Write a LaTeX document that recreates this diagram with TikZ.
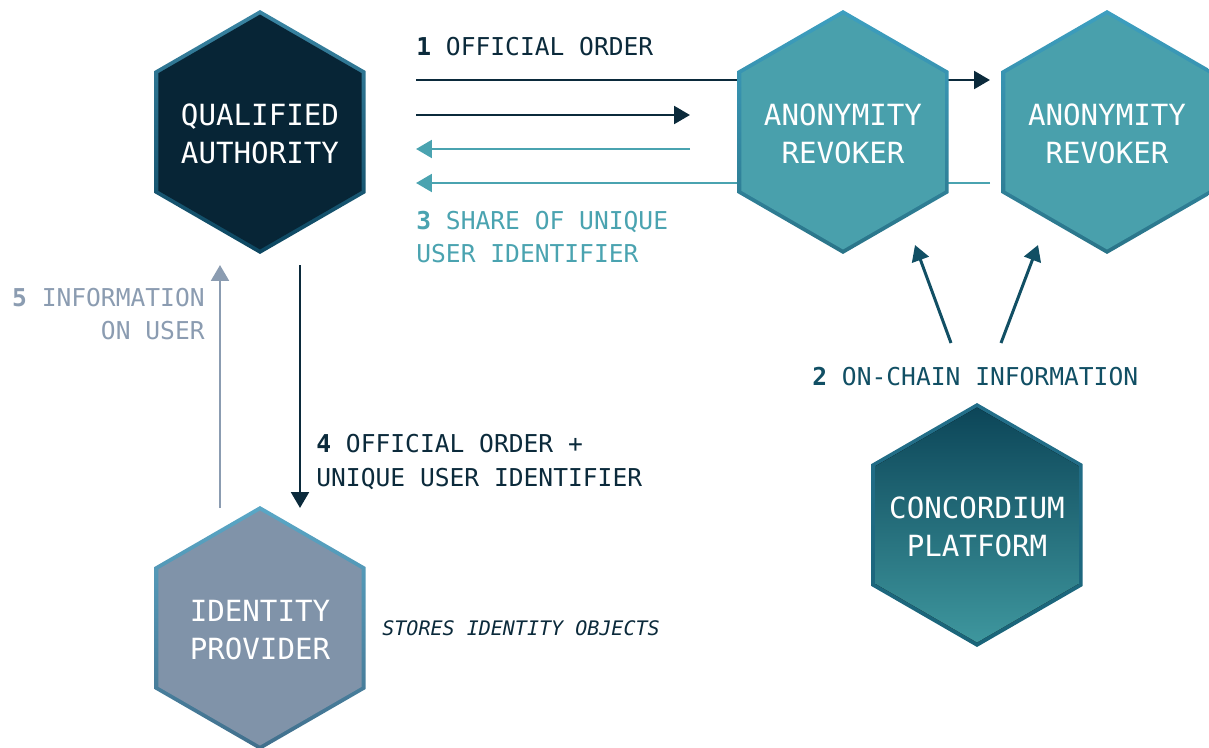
\documentclass[tikz,border=0pt]{standalone}
\usepackage{fontspec}
\setmainfont{DejaVu Sans Mono}
\usetikzlibrary{shapes.geometric, arrows.meta, backgrounds}

\definecolor{ink}{HTML}{0B2A3B}
\definecolor{navy}{HTML}{072536}
\definecolor{seablue}{HTML}{49A0AC}
\definecolor{teal}{HTML}{4AA3B0}
\definecolor{slate}{HTML}{8B9CB1}
\definecolor{deepteal}{HTML}{114F64}
\definecolor{idfill}{HTML}{8093A9}
% border and shading colours
\definecolor{qatop}{HTML}{3A85A3}
\definecolor{qabot}{HTML}{0C4660}
\definecolor{artop}{HTML}{3D9FC0}
\definecolor{arbot}{HTML}{2A7488}
\definecolor{cptop}{HTML}{236F8A}
\definecolor{cpbot}{HTML}{1A6479}
\definecolor{cpfilltop}{HTML}{0B4457}
\definecolor{cpfillbot}{HTML}{3F989F}
\definecolor{iptop}{HTML}{5AA7C6}
\definecolor{ipbot}{HTML}{416F8C}

% two centred lines that do not widen the hexagon
\newcommand{\hexlines}[2]{\raisebox{-2.8pt}[\height][\depth]{\makebox[0pt]{\begin{tabular}{@{}c@{}}#1\\#2\end{tabular}}}}

\begin{document}
\begin{tikzpicture}[
        x=0.02cm, y=-0.02cm,
        hexa/.style n args={3}{regular polygon, regular polygon sides=6, shape border rotate=30,
            minimum size=4.88cm, inner sep=0pt, top color=#1, bottom color=#2, text=white,
            font=\fontsize{16.6}{22}\selectfont,
            path picture={\fill[#3] (path picture bounding box.center) +(90:2.35cm) -- +(150:2.35cm)
                -- +(210:2.35cm) -- +(270:2.35cm) -- +(330:2.35cm) -- +(30:2.35cm) -- cycle;}},
        lbl/.style={inner sep=0pt, font=\fontsize{14}{19}\selectfont},
        note/.style={inner sep=0pt, text=ink, font=\fontsize{11.4}{14}\selectfont\itshape},
        arrow/.style={-{Triangle[length=9pt, width=10pt]}, line width=1.7pt}
    ]
    \useasboundingbox (0,0) rectangle (1209,747);

    % Hexagons
    \node[hexa={qatop}{qabot}{fill=navy}] (qa) at (260,132) {\hexlines{QUALIFIED}{AUTHORITY}};
    \node[hexa={artop}{arbot}{fill=seablue}] (ar1) at (843,132) {\hexlines{ANONYMITY}{REVOKER}};
    \node[hexa={artop}{arbot}{fill=seablue}] (ar2) at (1107,132) {\hexlines{ANONYMITY}{REVOKER}};
    \node[hexa={cptop}{cpbot}{top color=cpfilltop, bottom color=cpfillbot}] (cp) at (977,525) {\hexlines{CONCORDIUM}{PLATFORM}};
    \node[hexa={iptop}{ipbot}{fill=idfill}] (ip) at (260,628) {\hexlines{IDENTITY}{PROVIDER}};

    % Arrow ends
    \coordinate (order1a) at (416,80);  \coordinate (order1b) at (990,80);
    \coordinate (order2a) at (416,115); \coordinate (order2b) at (690,115);
    \coordinate (share1a) at (690,149); \coordinate (share1b) at (416,149);
    \coordinate (share2a) at (990,183); \coordinate (share2b) at (416,183);
    \coordinate (ordera) at (300,265);  \coordinate (orderb) at (300,508);
    \coordinate (infoa) at (220,508);   \coordinate (infob) at (220,265);
    \coordinate (chain1a) at (951,343); \coordinate (chain1b) at (915,245);
    \coordinate (chain2a) at (1001,343); \coordinate (chain2b) at (1038,245);

    \begin{scope}[on background layer]
    \draw[arrow, ink] (order1a) -- (order1b);
    \draw[arrow, ink] (order2a) -- (order2b);
    \draw[arrow, teal] (share1a) -- (share1b);
    \draw[arrow, teal] (share2a) -- (share2b);
    \draw[arrow, ink] (ordera) -- (orderb);
    \draw[arrow, slate] (infoa) -- (infob);
    \draw[arrow, deepteal] (chain1a) -- (chain1b);
    \draw[arrow, deepteal] (chain2a) -- (chain2b);
    \end{scope}

    % Labels
    \node[lbl, text=ink, anchor=west] (l1) at (416,47) {\textbf{1} OFFICIAL ORDER};
    \node[lbl, text=deepteal, anchor=west] (l2) at (812,377) {\textbf{2} ON-CHAIN INFORMATION};
    \node[lbl, text=teal, anchor=west, align=left] (l3) at (416,237) {\textbf{3} SHARE OF UNIQUE\\USER IDENTIFIER};
    \node[lbl, text=ink, anchor=west, align=left] (l4) at (316,462) {\textbf{4} OFFICIAL ORDER +\\UNIQUE USER IDENTIFIER};
    \node[lbl, text=slate, anchor=east, align=right] (l5) at (205,314) {\textbf{5} INFORMATION\\ON USER};
    \node[note, anchor=west] (stores) at (382,628) {STORES IDENTITY OBJECTS};

\end{tikzpicture}
\end{document}
